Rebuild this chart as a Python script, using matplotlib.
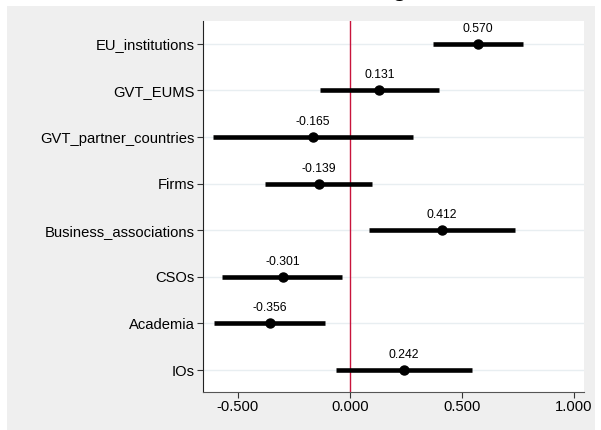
import matplotlib
matplotlib.use("Agg")
import matplotlib.pyplot as plt
from matplotlib.patches import Rectangle

plt.rcParams['font.family'] = ['Liberation Sans', 'DejaVu Sans']

# Koeffizienten und Konfidenzintervalle
kategorien = ["EU_institutions", "GVT_EUMS", "GVT_partner_countries", "Firms",
              "Business_associations", "CSOs", "Academia", "IOs"]
schaetzer = [0.570, 0.131, -0.165, -0.139, 0.412, -0.301, -0.356, 0.242]
ki_unten = [0.372, -0.132, -0.610, -0.378, 0.085, -0.571, -0.607, -0.062]
ki_oben = [0.771, 0.396, 0.280, 0.098, 0.737, -0.036, -0.112, 0.545]
xticks = [-0.5, 0.0, 0.5, 1.0]

fig = plt.figure(figsize=(6.01, 4.30), dpi=100)
fig.patch.set_facecolor("white")
# grauer Hintergrund des Screenshots
fig.patches.append(Rectangle((7/601, 0), 588/601, 424/430, transform=fig.transFigure,
                             facecolor="#efefef", edgecolor="none", zorder=-1))
# abgeschnittener Titel
fig.text(0.665, 1.012, "g", fontsize=20, ha="center", va="baseline", color="black", zorder=-2)

ax = fig.add_axes([203/601, 38/430, 381/601, 371/430])
ax.set_zorder(1)
ax.set_facecolor("white")

ypos = list(range(len(kategorien)))
for y in ypos:
    ax.axhline(y, color="#e8eef1", lw=1.0, zorder=1)
ax.axvline(0, color="#c8143c", lw=1.0, zorder=2)

for y, s, lo, hi in zip(ypos, schaetzer, ki_unten, ki_oben):
    ax.plot([lo, hi], [y, y], color="black", lw=3.3, solid_capstyle="butt", zorder=3)
    ax.plot(s, y, "o", color="black", ms=6.5, zorder=4)
    ax.annotate("%.3f" % s, (s, y), xytext=(0, 6.5), textcoords="offset points",
                ha="center", va="bottom", fontsize=8.8)

ax.set_xlim(-0.656, 1.045)
ax.set_ylim(len(kategorien) - 0.53, -0.49)
ax.set_yticks(ypos)
ax.set_yticklabels(kategorien, fontsize=10.6)
ax.set_xticks(xticks)
ax.set_xticklabels(["%.3f" % t for t in xticks], fontsize=10.6)

for s in ["top", "right"]:
    ax.spines[s].set_visible(False)
ax.spines["left"].set_color("#222222")
ax.spines["bottom"].set_color("#555555")
ax.tick_params(axis="both", length=4, width=0.8, color="#333333", pad=2)

fig.savefig("out.png", dpi=100, facecolor=fig.get_facecolor())
